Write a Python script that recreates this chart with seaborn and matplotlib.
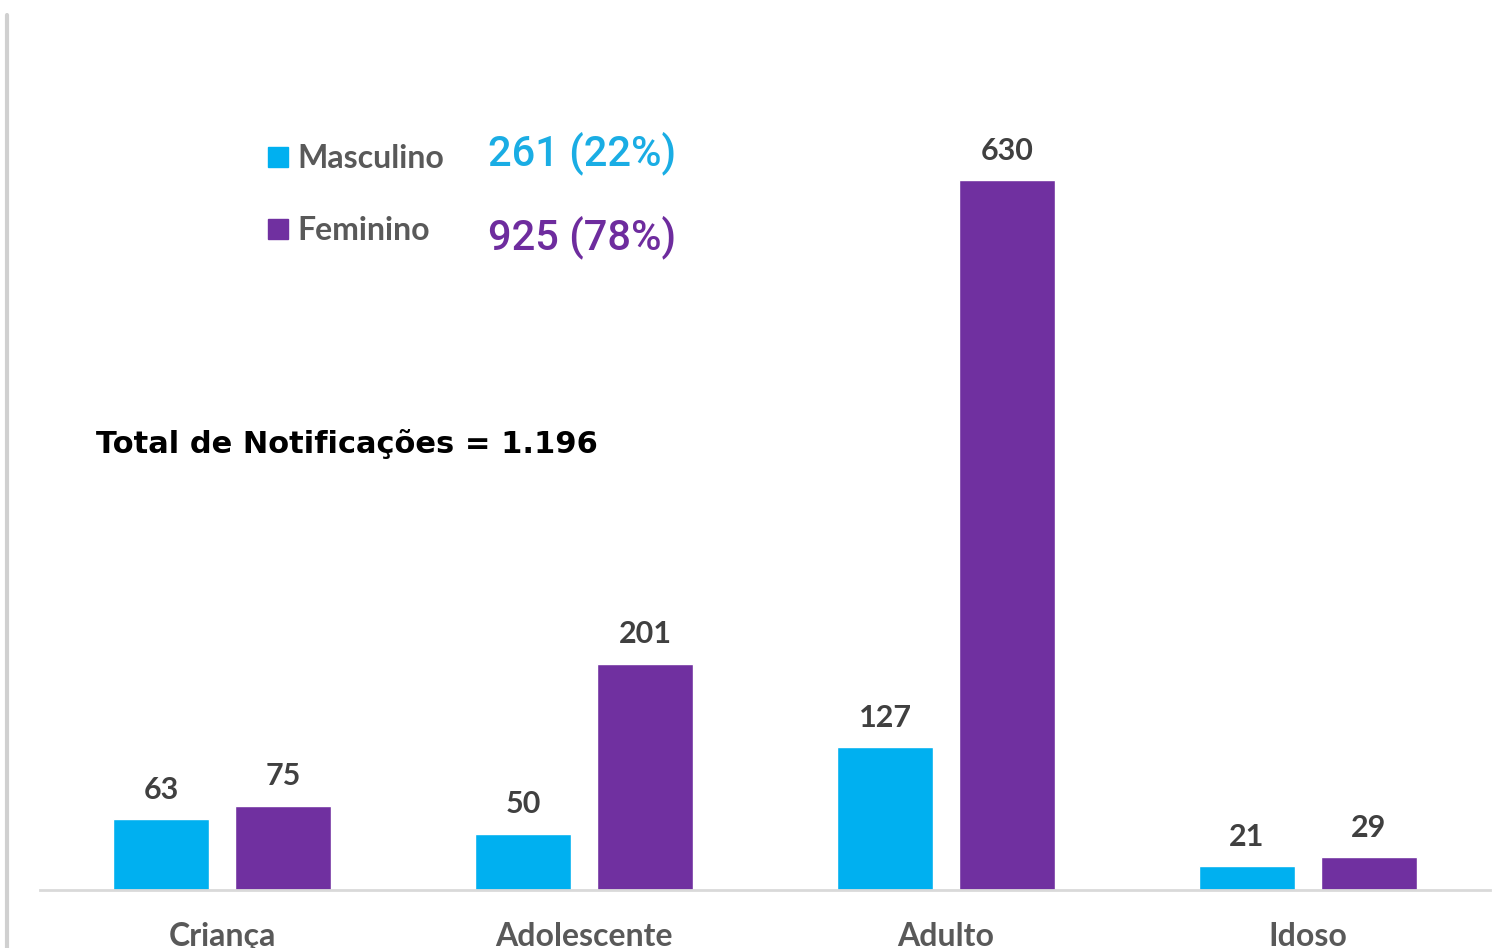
import matplotlib
matplotlib.use("Agg")
import matplotlib.pyplot as plt
import seaborn as sns
import pandas as pd
from matplotlib.lines import Line2D

categorias = ["Criança", "Adolescente", "Adulto", "Idoso"]
masculino = [63, 50, 127, 21]
feminino = [75, 201, 630, 29]
sexos = ["Masculino", "Feminino"]
totais = ["261 (22%)", "925 (78%)"]
titulo_total = "Total de Notificações = 1.196"

AZUL = "#00B0F0"
ROXO = "#7030A0"

df = pd.DataFrame({
    "Faixa": categorias * 2,
    "Sexo": [sexos[0]] * len(categorias) + [sexos[1]] * len(categorias),
    "Valor": masculino + feminino,
})

sns.set_theme(style="white")
plt.rcParams["font.family"] = ["Lato", "DejaVu Sans"]

W, H = 1511, 948
fig = plt.figure(figsize=(W / 100, H / 100), dpi=100)
ax = fig.add_axes([40 / W, 58 / H, 1450 / W, 890 / H])

sns.barplot(data=df, x="Faixa", y="Valor", hue="Sexo", order=categorias,
            hue_order=sexos, palette=[AZUL, ROXO], width=0.674, gap=0.214,
            saturation=1, legend=False, ax=ax)

for cont in ax.containers:
    ax.bar_label(cont, padding=11, fontsize=22, color="#404040", fontweight="bold")

ax.set_xlim(-0.503, 3.503)
ax.set_ylim(0, 790)
ax.set_xlabel("")
ax.set_ylabel("")
ax.set_yticks([])
for s in ["left", "right", "top"]:
    ax.spines[s].set_visible(False)
ax.spines["bottom"].set_color("#D9D9D9")
ax.spines["bottom"].set_linewidth(2)
ax.tick_params(axis="x", length=0, pad=23, labelsize=23, labelcolor="#595959")
for t in ax.get_xticklabels():
    t.set_fontweight("bold")

# legend
handles = [Line2D([], [], marker="s", linestyle="", markersize=15, color=c) for c in (AZUL, ROXO)]
leg = fig.legend(handles, sexos, loc="upper left", bbox_to_anchor=(256 / W, 1 - 131 / H),
                 frameon=False, labelcolor="#595959", handlelength=0.6,
                 handletextpad=0.3, labelspacing=1.35, borderaxespad=0,
                 prop={"weight": "bold", "size": 23})

fig.text(676 / W, 1 - 153 / H, totais[0], color="#1AADE4", fontsize=30,
         family=["Roboto", "DejaVu Sans"], fontweight="medium", ha="right", va="center")
fig.text(676 / W, 1 - 237 / H, totais[1], color="#6E2C9E", fontsize=30,
         family=["Roboto", "DejaVu Sans"], fontweight="medium", ha="right", va="center")
fig.text(96 / W, 1 - 444 / H, titulo_total, color="black", fontsize=22,
         family=["DejaVu Sans"], fontweight="bold", ha="left", va="center")

# left gray line
fig.add_artist(Line2D([7 / W, 7 / W], [0, 1 - 15 / H], color="#D0D0D0", linewidth=3,
                      transform=fig.transFigure))

fig.savefig("out.png", dpi=100)
